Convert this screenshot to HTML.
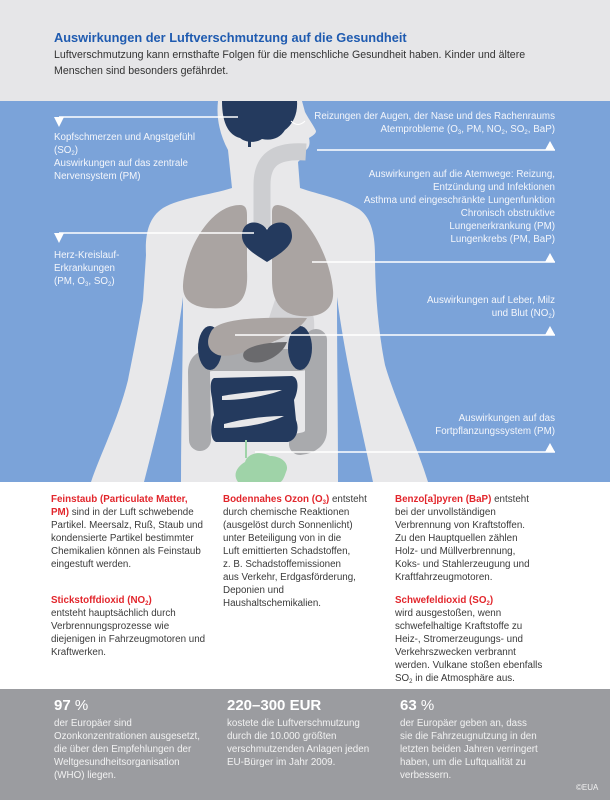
<!DOCTYPE html>
<html><head><meta charset="utf-8"><style>
*{margin:0;padding:0;box-sizing:border-box}
body{width:610px;height:800px;position:relative;overflow:hidden;font-family:"Liberation Sans",sans-serif;background:#fff}
.t{position:absolute;font-size:9.8px;line-height:13px;white-space:nowrap}
.w{color:#f4f6fb}
.r{text-align:right;right:55px}
.d{color:#3a3a3a}
.red{color:#e2262c;font-weight:bold}
sub{font-size:6px;vertical-align:-2px;line-height:0}
.g{color:#f2f2f2}
.big{position:absolute;font-size:15px;color:#fff;font-weight:bold}
.big span{font-weight:normal}
</style></head><body>
<div style="position:absolute;left:0;top:0;width:610px;height:101px;background:#e6e6e8"></div>
<div style="position:absolute;left:54px;top:30px;font-size:12.8px;font-weight:bold;color:#1f5bb0;white-space:nowrap">Auswirkungen der Luftverschmutzung auf die Gesundheit</div>
<div class="t" style="left:54px;top:47px;font-size:10.6px;line-height:16px;color:#333">Luftverschmutzung kann ernsthafte Folgen für die menschliche Gesundheit haben. Kinder und ältere<br>Menschen sind besonders gefährdet.</div>

<svg style="position:absolute;left:0;top:101px" width="610" height="381" viewBox="0 101 610 381">
<rect x="0" y="101" width="610" height="381" fill="#7ba3d9"/>
<path fill="#e8e8ea" d="M218,101 C216,118 220,135 228,150 L232,188 C210,195 180,198 163,208 C148,218 145,235 146,255 L143,300 C138,330 132,360 128,380 C118,420 100,455 91,482 L144,482 C160,420 175,360 183,297 C183,360 181,420 181,482 L338,482 C338,420 337,360 337,297 C345,360 360,420 373,482 L428,482 C415,440 395,400 385,365 C378,330 375,290 375,255 C375,232 370,215 357,208 C340,198 320,195 300,188 L298,162 C302,158 306,154 306,150 C310,147 310,142 309,138 C312,136 316,134 316,131 C314,126 308,118 305,112 L302,101 Z"/>
<path d="M306,152 C275,150 262,160 262,185 L262,228" stroke="#cdced1" stroke-width="17" fill="none"/>
<path fill="#243a5e" d="M222,101 L297,101 C298,115 292,125 285,130 C280,138 272,141 262,139 C256,143 246,143 240,138 C228,135 222,122 222,101 Z"/>
<rect x="248" y="137" width="3" height="10" fill="#243a5e"/>
<path d="M291,121 Q298,128 305,121" stroke="#fff" stroke-width="1" fill="none"/>
<path fill="#d3d3d6" d="M275,300 C290,295 312,300 314,320 C316,345 305,360 290,360 L265,330 Z"/>
<path fill="#aaa4a2" d="M240,205 C210,205 185,250 183,285 C182,305 200,310 225,308 C245,306 248,290 247,270 L247,215 C247,208 245,205 240,205 Z"/>
<path fill="#aaa4a2" d="M278,205 C305,208 330,255 333,290 C335,312 318,318 300,316 C280,314 272,300 272,280 L272,212 C272,207 274,205 278,205 Z"/>
<path fill="#243a5e" d="M267,230 C262,220 242,218 242,236 C242,248 258,256 267,262 C276,256 292,248 292,236 C292,218 272,220 267,230 Z"/>
<path fill="none" stroke="#a9aaad" stroke-width="22" stroke-linejoin="round" stroke-linecap="round" d="M200,440 L199,372 Q199,360 213,360 L300,360 Q314,358 315,345 L316,340 L316,430 Q316,442 300,444"/>
<ellipse cx="210" cy="348" rx="12" ry="22" fill="#243a5e"/>
<ellipse cx="300" cy="348" rx="12" ry="22" fill="#243a5e"/>
<path fill="#aaa4a2" d="M212,330 C222,318 260,317 307,318 C300,330 280,340 262,346 C245,352 230,358 218,355 C206,350 206,340 212,330 Z"/>
<path fill="#6a6a6d" d="M287,342 C270,342 250,345 244,352 C240,360 250,364 262,362 C276,358 284,350 287,342 Z"/>
<path fill="#243a5e" d="M214,378 L292,376 C300,378 298,392 294,400 L296,420 C300,430 296,440 288,442 L216,442 C210,440 210,425 214,415 L212,398 C210,388 210,380 214,378 Z"/>
<path fill="#e8e8ea" d="M222,396 C245,392 270,390 282,390 C270,395 245,400 222,400 Z"/>
<path fill="#e8e8ea" d="M224,424 C245,418 270,416 284,416 C272,422 246,428 224,428 Z"/>
<path fill="#9fd3a8" d="M245,462 C248,452 262,451 270,456 C282,456 290,464 286,472 C284,478 282,482 280,482 L238,482 C232,474 238,466 245,462 Z"/>
<rect x="245" y="440" width="2" height="18" fill="#9fd3a8"/>
<g stroke="#fff" stroke-width="1.4">
<line x1="59" y1="117" x2="238" y2="117"/>
<line x1="317" y1="150" x2="555" y2="150"/>
<line x1="312" y1="262" x2="555" y2="262"/>
<line x1="59" y1="233" x2="254" y2="233"/>
<line x1="235" y1="335" x2="555" y2="335"/>
<line x1="255" y1="452" x2="555" y2="452"/>
</g>
<g fill="#fff">
<polygon points="54,117 64,117 59,127"/>
<polygon points="54,233 64,233 59,243"/>
<polygon points="545,150 555,150 550,141"/>
<polygon points="545,262 555,262 550,253"/>
<polygon points="545,335 555,335 550,326"/>
<polygon points="545,452 555,452 550,443"/>
</g>
</svg>

<div class="t w" style="left:54px;top:131px">Kopfschmerzen und Angstgefühl<br>(SO<sub>2</sub>)<br>Auswirkungen auf das zentrale<br>Nervensystem (PM)</div>
<div class="t w r" style="top:110px">Reizungen der Augen, der Nase und des Rachenraums<br>Atemprobleme (O<sub>3</sub>, PM, NO<sub>2</sub>, SO<sub>2</sub>, BaP)</div>
<div class="t w r" style="top:168px">Auswirkungen auf die Atemwege: Reizung,<br>Entzündung und Infektionen<br>Asthma und eingeschränkte Lungenfunktion<br>Chronisch obstruktive<br>Lungenerkrankung (PM)<br>Lungenkrebs (PM, BaP)</div>
<div class="t w" style="left:54px;top:249px">Herz-Kreislauf-<br>Erkrankungen<br>(PM, O<sub>3</sub>, SO<sub>2</sub>)</div>
<div class="t w r" style="top:294px">Auswirkungen auf Leber, Milz<br>und Blut (NO<sub>2</sub>)</div>
<div class="t w r" style="top:412px">Auswirkungen auf das<br>Fortpflanzungssystem (PM)</div>

<div class="t d" style="left:51px;top:493px"><span class="red">Feinstaub (Particulate Matter,<br>PM)</span> sind in der Luft schwebende<br>Partikel. Meersalz, Ruß, Staub und<br>kondensierte Partikel bestimmter<br>Chemikalien können als Feinstaub<br>eingestuft werden.</div>
<div class="t d" style="left:51px;top:594px"><span class="red">Stickstoffdioxid (NO<sub>2</sub>)</span><br>entsteht hauptsächlich durch<br>Verbrennungsprozesse wie<br>diejenigen in Fahrzeugmotoren und<br>Kraftwerken.</div>
<div class="t d" style="left:223px;top:493px"><span class="red">Bodennahes Ozon (O<sub>3</sub>)</span> entsteht<br>durch chemische Reaktionen<br>(ausgelöst durch Sonnenlicht)<br>unter Beteiligung von in die<br>Luft emittierten Schadstoffen,<br>z. B. Schadstoffemissionen<br>aus Verkehr, Erdgasförderung,<br>Deponien und<br>Haushaltschemikalien.</div>
<div class="t d" style="left:395px;top:493px"><span class="red">Benzo[a]pyren (BaP)</span> entsteht<br>bei der unvollständigen<br>Verbrennung von Kraftstoffen.<br>Zu den Hauptquellen zählen<br>Holz- und Müllverbrennung,<br>Koks- und Stahlerzeugung und<br>Kraftfahrzeugmotoren.</div>
<div class="t d" style="left:395px;top:594px"><span class="red">Schwefeldioxid (SO<sub>2</sub>)</span><br>wird ausgestoßen, wenn<br>schwefelhaltige Kraftstoffe zu<br>Heiz-, Stromerzeugungs- und<br>Verkehrszwecken verbrannt<br>werden. Vulkane stoßen ebenfalls<br>SO<sub>2</sub> in die Atmosphäre aus.</div>

<div style="position:absolute;left:0;top:689px;width:610px;height:111px;background:#9b9ca0"></div>
<div class="big" style="left:54px;top:697px">97 <span>%</span></div>
<div class="big" style="left:227px;top:697px">220–300 EUR</div>
<div class="big" style="left:400px;top:697px">63 <span>%</span></div>
<div class="t g" style="left:54px;top:717px">der Europäer sind<br>Ozonkonzentrationen ausgesetzt,<br>die über den Empfehlungen der<br>Weltgesundheitsorganisation<br>(WHO) liegen.</div>
<div class="t g" style="left:227px;top:717px">kostete die Luftverschmutzung<br>durch die 10.000 größten<br>verschmutzenden Anlagen jeden<br>EU-Bürger im Jahr 2009.</div>
<div class="t g" style="left:400px;top:717px">der Europäer geben an, dass<br>sie die Fahrzeugnutzung in den<br>letzten beiden Jahren verringert<br>haben, um die Luftqualität zu<br>verbessern.</div>
<div class="t g" style="left:576px;top:781px;font-size:8px">©EUA</div>
</body></html>
